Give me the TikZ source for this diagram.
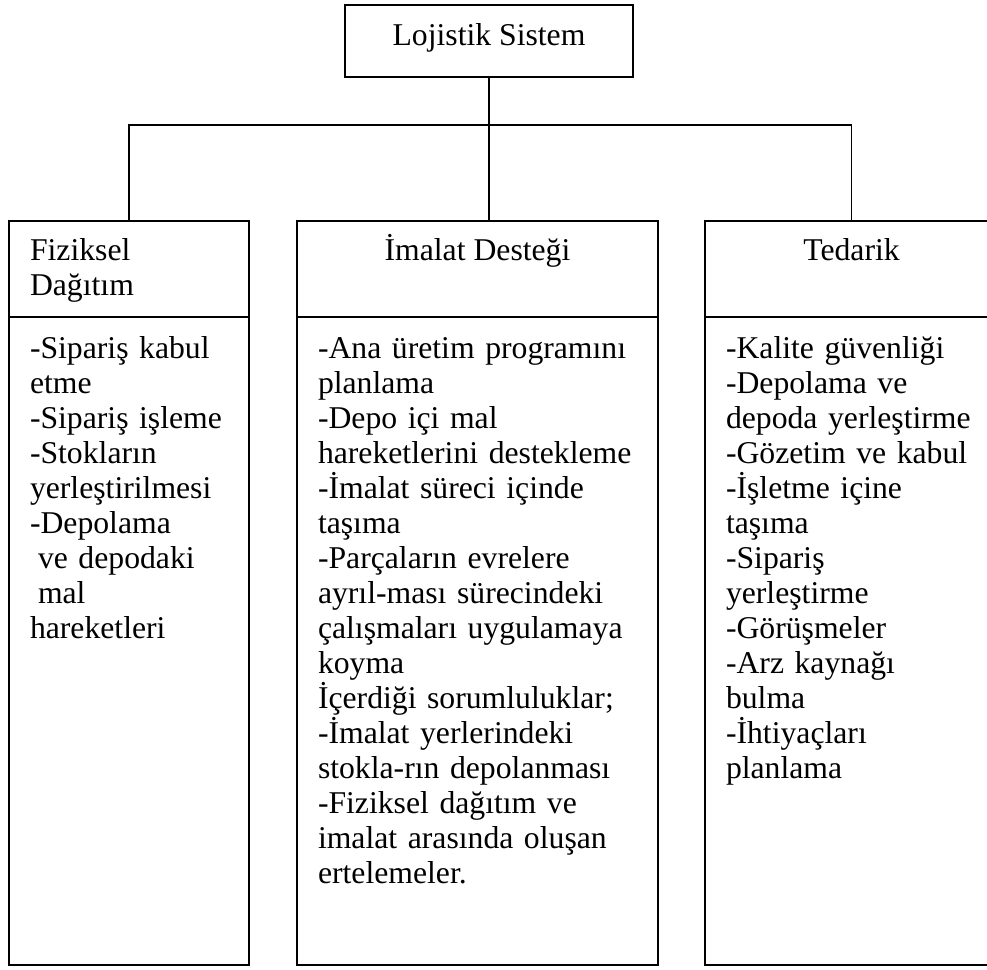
\documentclass[tikz,border=0pt]{standalone}
\usepackage{fontspec}
\setmainfont{Liberation Serif}
\usetikzlibrary{positioning}

\begin{document}
\begin{tikzpicture}[
  x=1pt, y=-1pt,
  font=\fontsize{31.7}{35}\selectfont,
  frame/.style={draw, line width=1.3pt, inner sep=0pt, outer sep=0pt},
  head/.style={frame, anchor=north west, text height=39pt, text depth=57pt},
  body/.style={frame, inner xsep=21pt, align=left, text height=41pt, text depth=607pt},
  link/.style={line width=1.3pt}
]
\useasboundingbox (0,0) rectangle (987,969);
\clip (0,0) rectangle (987,969);

% top of the tree
\node[frame, anchor=north, minimum width=288pt, text height=40pt, text depth=32pt] (sys) at (489,5) {Lojistik Sistem};

% column headers
\node[head, inner xsep=21pt, text width=198pt, align=left] (fizH) at (9,221) {Fiziksel\\Dağıtım};
\node[head, minimum width=361pt] (imaH) at (297,221) {İmalat Desteği};
\node[head, minimum width=293pt] (tedH) at (705,221) {Tedarik};

% column bodies
\node[body, text width=198pt, below=0pt of fizH] (fizB) {-Sipariş kabul\\etme\\-Sipariş işleme\\-Stokların\\yerleştirilmesi\\-Depolama\\\hspace*{8pt}ve depodaki\\\hspace*{8pt}mal\\hareketleri};
\node[body, text width=319pt, below=0pt of imaH] (imaB) {-Ana üretim programını\\planlama\\-Depo içi mal\\hareketlerini destekleme\\-İmalat süreci içinde\\taşıma\\-Parçaların evrelere\\ayrıl-ması sürecindeki\\çalışmaları uygulamaya\\koyma\\İçerdiği sorumluluklar;\\-İmalat yerlerindeki\\stokla-rın depolanması\\-Fiziksel dağıtım ve\\imalat arasında oluşan\\ertelemeler.};
\node[body, text width=251pt, below=0pt of tedH] (tedB) {-Kalite güvenliği\\-Depolama ve\\depoda yerleştirme\\-Gözetim ve kabul\\-İşletme içine\\taşıma\\-Sipariş\\yerleştirme\\-Görüşmeler\\-Arz kaynağı\\bulma\\-İhtiyaçları\\planlama};

% connectors
\coordinate (bar) at ([yshift=-48pt]sys.south);
\draw[link] (sys.south) -- (sys.south |- imaH.north);
\draw[link] (fizH.north) |- (bar) -| (tedH.north);
\end{tikzpicture}
\end{document}
